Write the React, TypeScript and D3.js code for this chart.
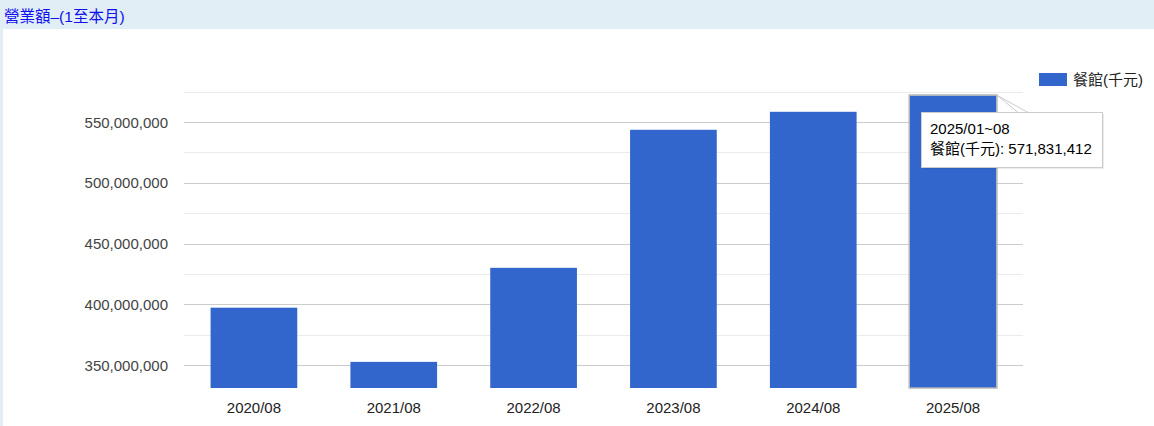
import React, { useEffect, useRef } from 'react';
import * as d3 from 'd3';

const categories = ['2020/08', '2021/08', '2022/08', '2023/08', '2024/08', '2025/08'];
const values = [397200000, 352600000, 430000000, 543600000, 558400000, 571831412];
const yTicks = [350000000, 400000000, 450000000, 500000000, 550000000];
const minorTicks = [375000000, 425000000, 475000000, 525000000, 575000000];
const seriesName = '餐館(千元)';
const tooltipTitle = '2025/01~08';
const title = '營業額–(1至本月)';

const W = 1154;
const H = 426;
const FONT = 'Arial, "Liberation Sans", "Noto Sans CJK TC", sans-serif';

const App: React.FC = () => {
  const svgRef = useRef<SVGSVGElement | null>(null);

  useEffect(() => {
    const svg = d3.select(svgRef.current);
    svg.selectAll('*').remove();

    // page frame
    svg.append('rect').attr('width', W).attr('height', H).attr('fill', '#e1eef6');
    svg.append('rect').attr('x', 3).attr('y', 29).attr('width', W - 3).attr('height', H - 29).attr('fill', '#fff');
    svg.append('text')
      .attr('x', 4).attr('y', 22)
      .attr('fill', '#1010ee')
      .style('font-size', '15.5px')
      .style('font-family', FONT)
      .text(title);

    const plot = { left: 184, right: 1023, top: 92, bottom: 388 };

    const x = d3.scaleBand()
      .domain(categories)
      .range([plot.left, plot.right])
      .paddingInner(0.38)
      .paddingOuter(0.19);

    const y = d3.scaleLinear()
      .domain([331100000, 574700000])
      .range([plot.bottom, plot.top]);

    // minor grid
    svg.append('g').selectAll('line')
      .data(minorTicks)
      .join('line')
      .attr('x1', plot.left).attr('x2', plot.right)
      .attr('y1', d => Math.round(y(d)) + 0.5).attr('y2', d => Math.round(y(d)) + 0.5)
      .attr('stroke', '#ebebeb');

    // major grid
    svg.append('g').selectAll('line')
      .data(yTicks)
      .join('line')
      .attr('x1', plot.left).attr('x2', plot.right)
      .attr('y1', d => Math.round(y(d)) + 0.5).attr('y2', d => Math.round(y(d)) + 0.5)
      .attr('stroke', '#cccccc');

    // y labels
    svg.append('g').selectAll('text')
      .data(yTicks)
      .join('text')
      .attr('x', 168)
      .attr('y', d => y(d) + 5.5)
      .attr('text-anchor', 'end')
      .attr('fill', '#444')
      .style('font-size', '15px')
      .style('font-family', FONT)
      .text(d => d3.format(',')(d));

    // bars
    svg.append('g').selectAll('rect')
      .data(values)
      .join('rect')
      .attr('x', (d, i) => x(categories[i])!)
      .attr('y', d => y(d))
      .attr('width', x.bandwidth())
      .attr('height', d => plot.bottom - y(d))
      .attr('fill', '#3366cc');

    // hover outline on last bar
    const last = values.length - 1;
    const lx = x(categories[last])!;
    const ly = y(values[last]);
    svg.append('rect')
      .attr('x', lx - 0.5).attr('y', ly - 0.5)
      .attr('width', x.bandwidth() + 1).attr('height', plot.bottom - ly + 0.5)
      .attr('fill', 'none')
      .attr('stroke', '#b5b5b5')
      .attr('stroke-width', 1.5);

    // x labels
    svg.append('g').selectAll('text')
      .data(categories)
      .join('text')
      .attr('x', d => x(d)! + x.bandwidth() / 2)
      .attr('y', 413)
      .attr('text-anchor', 'middle')
      .attr('fill', '#222')
      .style('font-size', '15px')
      .style('font-family', FONT)
      .text(d => d);

    // legend
    svg.append('rect').attr('x', 1039).attr('y', 73).attr('width', 28).attr('height', 13).attr('fill', '#3366cc');
    svg.append('text')
      .attr('x', 1073).attr('y', 85)
      .attr('fill', '#222')
      .style('font-size', '15px')
      .style('font-family', FONT)
      .text(seriesName);

    // tooltip
    const tx = 921, ty = 112, tw = 181, th = 55;
    const tip = svg.append('g');
    tip.append('path')
      .attr('d', `M${tx + tw - 84},${ty + 0.5} L${lx + x.bandwidth() + 1},${ly} L${tx + tw - 74},${ty + 0.5}`)
      .attr('fill', '#fff')
      .attr('stroke', '#ccc');
    tip.append('rect')
      .attr('x', tx + 2).attr('y', ty + 2).attr('width', tw).attr('height', th)
      .attr('fill', 'rgba(0,0,0,0.08)');
    tip.append('rect')
      .attr('x', tx + 0.5).attr('y', ty + 0.5).attr('width', tw).attr('height', th)
      .attr('fill', '#fff')
      .attr('stroke', '#ccc');
    tip.append('text')
      .attr('x', tx + 9).attr('y', ty + 22)
      .attr('fill', '#000')
      .style('font-size', '15px')
      .style('font-family', FONT)
      .text(tooltipTitle);
    tip.append('text')
      .attr('x', tx + 9).attr('y', ty + 42)
      .attr('fill', '#000')
      .style('font-size', '15px')
      .style('font-family', FONT)
      .text(`${seriesName}: ${d3.format(',')(values[last])}`);
  }, []);

  return (
    <div style={{ position: 'fixed', left: 0, top: 0, width: W, height: H }}>
      <svg ref={svgRef} width={W} height={H} style={{ display: 'block' }} />
    </div>
  );
};

export default App;
